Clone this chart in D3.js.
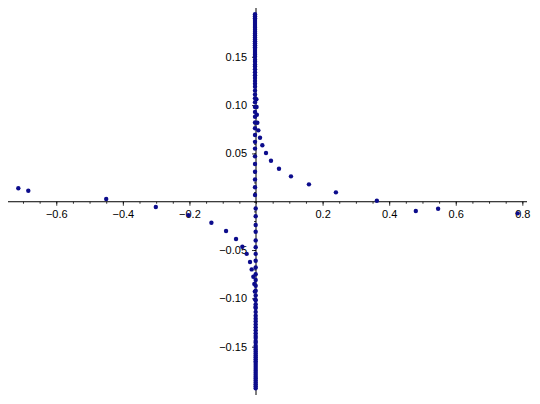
<!DOCTYPE html>
<html>
<head>
<meta charset="utf-8">
<script src="https://cdn.jsdelivr.net/npm/d3@7"></script>
<style>
  body { margin: 0; background: #fff; }
  svg { display: block; }
</style>
</head>
<body>
<div id="chart"></div>
<script>
// branch coming down from the upper part of the y axis towards the right
const rightBranch = [
  [0.0011, 0.106], [0.0017, 0.098], [0.0026, 0.090], [0.004, 0.0818],
  [0.007, 0.0739], [0.012, 0.0663], [0.019, 0.0584], [0.030, 0.0504],
  [0.045, 0.0424], [0.069, 0.0342], [0.105, 0.0263], [0.159, 0.018],
  [0.240, 0.0097], [0.363, 0.001], [0.480, -0.0096], [0.547, -0.0072],
  [0.786, -0.012]
];
// branch going from the far left down to the lower part of the y axis
const leftBranch = [
  [-0.714, 0.0139], [-0.684, 0.0114], [-0.450, 0.0028], [-0.301, -0.0055],
  [-0.203, -0.0138], [-0.134, -0.0217], [-0.090, -0.0303], [-0.060, -0.0386],
  [-0.041, -0.0466], [-0.028, -0.054], [-0.018, -0.0624], [-0.013, -0.070],
  [-0.008, -0.0776], [-0.005, -0.085], [-0.0035, -0.093], [-0.0023, -0.101],
  [-0.0015, -0.109]
];
// points sitting on the y axis
const columnUpper = [
  0.007, 0.015, 0.023, 0.031, 0.039, 0.047, 0.055, 0.062, 0.069, 0.076,
  0.082, 0.088, 0.093, 0.098, 0.103, 0.107, 0.111, 0.115, 0.119, 0.122,
  0.125, 0.128, 0.131, 0.134, 0.137, 0.140, 0.142, 0.145, 0.147, 0.150,
  0.152, 0.154, 0.156, 0.158, 0.160, 0.162, 0.164, 0.166, 0.168, 0.170,
  0.172, 0.174, 0.176, 0.178, 0.180, 0.182, 0.184, 0.186, 0.188, 0.190,
  0.192, 0.194
];
const columnLower = [
  -0.007, -0.015, -0.024, -0.031, -0.040, -0.047, -0.054, -0.061, -0.068, -0.075,
  -0.081, -0.087, -0.092, -0.097, -0.102, -0.106, -0.110, -0.114, -0.118, -0.121,
  -0.124, -0.127, -0.130, -0.133, -0.136, -0.139, -0.141, -0.144, -0.146, -0.149,
  -0.151, -0.153, -0.155, -0.157, -0.159, -0.161, -0.163, -0.165, -0.167, -0.169,
  -0.171, -0.173, -0.175, -0.177, -0.179, -0.181, -0.183, -0.185, -0.187, -0.189,
  -0.191, -0.193
];
const xTicks = [-0.6, -0.4, -0.2, 0.2, 0.4, 0.6, 0.8];
const yTicks = [-0.15, -0.10, -0.05, 0.05, 0.10, 0.15];

const width = 540, height = 404;
const x = d3.scaleLinear().domain([-0.745, 0.814]).range([8, 527]);
const y = d3.scaleLinear().domain([-0.2, 0.2005]).range([395, 8]);
const fmtMinus = s => s.replace("-", "\u2212");

const svg = d3.select("#chart").append("svg")
  .attr("width", width).attr("height", height)
  .style("font-family", "'DejaVu Sans', sans-serif");

// x axis through y = 0
const xAxis = svg.append("g").attr("transform", `translate(0,${y(0)})`);
xAxis.append("g")
  .call(d3.axisBottom(x).tickValues(d3.range(-0.7, 0.81, 0.05)).tickSize(2).tickFormat(""))
  .call(g => g.select(".domain").remove());
xAxis.append("g")
  .call(d3.axisBottom(x).tickValues(xTicks).tickSize(4).tickPadding(4)
    .tickFormat(d => fmtMinus(d3.format(".1f")(d))))
  .call(g => g.select(".domain").attr("d", `M${x.range()[0]},0H${x.range()[1]}`));

// y axis through x = 0
const yAxis = svg.append("g").attr("transform", `translate(${x(0)},0)`);
yAxis.append("g")
  .call(d3.axisLeft(y).tickValues(d3.range(-0.19, 0.2, 0.01)).tickSize(2).tickFormat(""))
  .call(g => g.select(".domain").remove());
yAxis.append("g")
  .call(d3.axisLeft(y).tickValues(yTicks).tickSize(4).tickPadding(5)
    .tickFormat(d => fmtMinus(d3.format(".2f")(d))))
  .call(g => g.select(".domain").attr("d", `M0,${y.range()[0]}V${y.range()[1]}`));

svg.selectAll(".tick text").attr("font-size", 11).attr("fill", "#000");
svg.selectAll(".tick line").attr("stroke", "#000").attr("stroke-width", 0.8);
svg.selectAll(".domain").attr("stroke", "#000").attr("stroke-width", 1);

const points = [
  ...rightBranch,
  ...leftBranch,
  ...columnUpper.map(v => [-0.003, v]),
  ...columnLower.map(v => [-0.001, v])
];

svg.append("g").selectAll("circle")
  .data(points)
  .enter()
  .append("circle")
  .attr("cx", d => x(d[0]))
  .attr("cy", d => y(d[1]))
  .attr("r", 2.2)
  .attr("fill", "#0c0c8c");
</script>
</body>
</html>
